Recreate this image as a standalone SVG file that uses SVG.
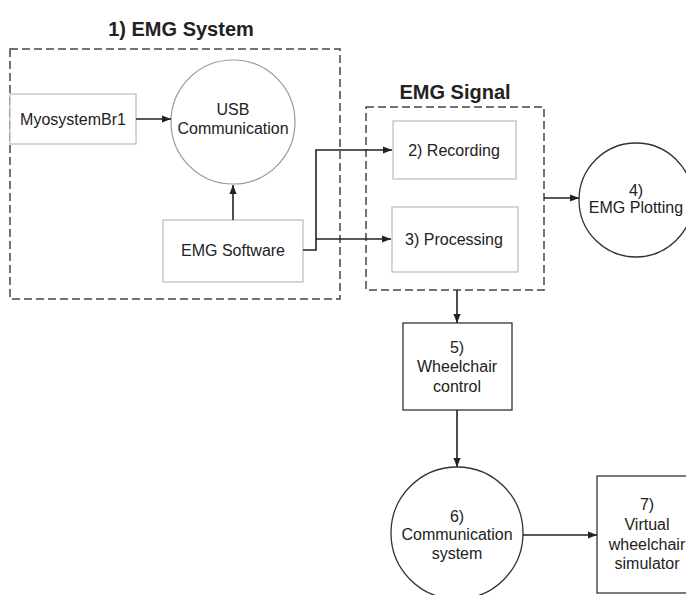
<svg xmlns="http://www.w3.org/2000/svg" width="686" height="595" viewBox="0 0 686 595">
  <defs>
    <marker id="arrow" viewBox="0 0 10 10" refX="10" refY="5" markerWidth="9" markerHeight="9" markerUnits="userSpaceOnUse" orient="auto">
      <path d="M0,1 L10,5 L0,9 Z" fill="#222"/>
    </marker>
    <style>
      text { font-family: "Liberation Sans", Arial, sans-serif; fill: #222; text-anchor: middle; }
      .lbl { font-size: 16px; }
      .title { font-size: 20px; font-weight: bold; }
      .group { fill: none; stroke: #444; stroke-width: 1.5; stroke-dasharray: 8 4; }
      .light { fill: #fff; stroke: #bbb; stroke-width: 1.2; }
      .dark { fill: #fff; stroke: #333; stroke-width: 1.3; }
      .circ-light { fill: #fff; stroke: #999; stroke-width: 1.2; }
      .circ-dark { fill: #fff; stroke: #333; stroke-width: 1.3; }
      .wire { fill: none; stroke: #222; stroke-width: 1.6; }
    </style>
  </defs>
  <rect width="686" height="595" fill="#fff"/>

  <!-- group frames -->
  <g id="emg-system">
    <rect class="group" x="10" y="49" width="330" height="250"/>
    <text class="title" x="181" y="36">1) EMG System</text>
  </g>
  <g id="emg-signal">
    <rect class="group" x="366" y="107" width="178" height="183"/>
    <text class="title" x="455" y="99">EMG Signal</text>
  </g>

  <!-- nodes -->
  <g id="myosystem">
    <rect class="light" x="10" y="94" width="126" height="50"/>
    <text class="lbl" x="73" y="125">MyosystemBr1</text>
  </g>
  <g id="usb">
    <circle class="circ-light" cx="233" cy="122" r="62"/>
    <text class="lbl" x="233" y="115">USB</text>
    <text class="lbl" x="233" y="134">Communication</text>
  </g>
  <g id="emg-software">
    <rect class="light" x="163" y="220" width="140" height="62"/>
    <text class="lbl" x="233" y="256">EMG Software</text>
  </g>
  <g id="recording">
    <rect class="light" x="393" y="121" width="123" height="58"/>
    <text class="lbl" x="454" y="156">2) Recording</text>
  </g>
  <g id="processing">
    <rect class="light" x="392" y="207" width="126" height="65"/>
    <text class="lbl" x="454" y="245">3) Processing</text>
  </g>
  <g id="emg-plotting">
    <circle class="circ-dark" cx="636" cy="200" r="57"/>
    <text class="lbl" x="636" y="196">4)</text>
    <text class="lbl" x="636" y="213">EMG Plotting</text>
  </g>
  <g id="wheelchair-control">
    <rect class="dark" x="403" y="323" width="109" height="87"/>
    <text class="lbl" x="457" y="353">5)</text>
    <text class="lbl" x="457" y="372">Wheelchair</text>
    <text class="lbl" x="457" y="392">control</text>
  </g>
  <g id="communication-system">
    <circle class="circ-dark" cx="457" cy="533" r="66"/>
    <text class="lbl" x="457" y="522">6)</text>
    <text class="lbl" x="457" y="540">Communication</text>
    <text class="lbl" x="457" y="559">system</text>
  </g>
  <g id="virtual-simulator">
    <rect class="dark" x="597" y="476" width="100" height="117"/>
    <text class="lbl" x="647" y="510">7)</text>
    <text class="lbl" x="647" y="530">Virtual</text>
    <text class="lbl" x="647" y="550">wheelchair</text>
    <text class="lbl" x="647" y="569">simulator</text>
  </g>

  <!-- connectors -->
  <g id="connectors">
    <line class="wire" x1="136" y1="119" x2="171" y2="119" marker-end="url(#arrow)"/>
    <line class="wire" x1="233" y1="220" x2="233" y2="185" marker-end="url(#arrow)"/>
    <polyline class="wire" points="303,250 316,250 316,150 392,150" marker-end="url(#arrow)"/>
    <line class="wire" x1="316" y1="239" x2="391" y2="239" marker-end="url(#arrow)"/>
    <line class="wire" x1="544" y1="198" x2="579" y2="198" marker-end="url(#arrow)"/>
    <line class="wire" x1="457" y1="290" x2="457" y2="323" marker-end="url(#arrow)"/>
    <line class="wire" x1="457" y1="410" x2="457" y2="467" marker-end="url(#arrow)"/>
    <line class="wire" x1="523" y1="535" x2="597" y2="535" marker-end="url(#arrow)"/>
  </g>
</svg>
